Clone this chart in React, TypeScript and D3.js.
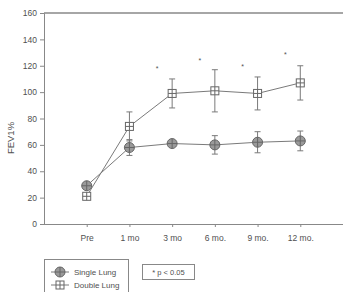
import * as d3 from "d3";
import React, { useEffect, useRef } from "react";

const categories = ["Pre", "1 mo", "3 mo", "6 mo.", "9 mo.", "12 mo."];
const singleMean = [29, 58, 61, 60, 62, 63];
const singleErr = [0, 6, 0, 7, 8, 7.5];
const doubleMean = [21, 74, 99, 101, 99, 107];
const doubleErr = [0, 11, 11, 16, 12.5, 13];
const starCats = ["3 mo", "6 mo.", "9 mo.", "12 mo."];
const starValues = [119, 125, 120, 129];
const yTicks = [0, 20, 40, 60, 80, 100, 120, 140, 160];

const W = 343;
const H = 292;
const gray = "#7a7a7a";
const textColor = "#505050";
const font = "Arial, Liberation Sans, sans-serif";

const App: React.FC = () => {
  const svgRef = useRef<SVGSVGElement | null>(null);

  useEffect(() => {
    const svg = d3.select(svgRef.current);
    svg.selectAll("*").remove();

    const x = d3.scalePoint<string>().domain(categories).range([44, 343]).padding(1);
    const y = d3.scaleLinear().domain([0, 160]).range([224, 13]);

    // top frame line
    svg
      .append("line")
      .attr("x1", 44)
      .attr("x2", W)
      .attr("y1", y(160))
      .attr("y2", y(160))
      .attr("stroke", "#888")
      .attr("stroke-width", 1.5);

    const yAxis = svg
      .append("g")
      .attr("transform", "translate(44,0)")
      .call(d3.axisLeft(y).tickValues(yTicks).tickSize(4).tickPadding(3));
    yAxis.select(".domain").attr("stroke", "#888");
    yAxis.selectAll("line").attr("stroke", "#888");
    yAxis
      .selectAll("text")
      .attr("fill", textColor)
      .style("font-family", font)
      .style("font-size", "8.5px");

    const xAxis = svg
      .append("g")
      .attr("transform", `translate(0,${y(0)})`)
      .call(d3.axisBottom(x).tickSize(3).tickPadding(8).tickSizeOuter(0));
    xAxis.select(".domain").attr("stroke", "#888").attr("d", "M40.5,0.5H343");
    xAxis.selectAll("line").attr("stroke", "#888");
    xAxis
      .selectAll("text")
      .attr("fill", textColor)
      .style("font-family", font)
      .style("font-size", "8.5px");

    svg
      .append("text")
      .attr("transform", `translate(14,138) rotate(-90)`)
      .attr("text-anchor", "middle")
      .attr("fill", textColor)
      .style("font-family", font)
      .style("font-size", "9.5px")
      .text("FEV1%");

    const line = d3
      .line<number>()
      .x((_, i) => x(categories[i]) as number)
      .y((d) => y(d));

    const drawErr = (means: number[], errs: number[]) => {
      const g = svg.append("g").attr("stroke", gray).attr("stroke-width", 1);
      means.forEach((m, i) => {
        if (!errs[i]) return;
        const cx = x(categories[i]) as number;
        g.append("line").attr("x1", cx).attr("x2", cx).attr("y1", y(m + errs[i])).attr("y2", y(m - errs[i]));
        [m + errs[i], m - errs[i]].forEach((v) => {
          g.append("line").attr("x1", cx - 3).attr("x2", cx + 3).attr("y1", y(v)).attr("y2", y(v));
        });
      });
    };

    drawErr(doubleMean, doubleErr);
    drawErr(singleMean, singleErr);

    svg.append("path").datum(doubleMean).attr("d", line).attr("fill", "none").attr("stroke", gray);
    svg.append("path").datum(singleMean).attr("d", line).attr("fill", "none").attr("stroke", gray);

    const drawSquare = (g: d3.Selection<any, any, any, any>, cx: number, cy: number) => {
      g.append("rect")
        .attr("x", cx - 4)
        .attr("y", cy - 4)
        .attr("width", 8)
        .attr("height", 8)
        .attr("fill", "#fff")
        .attr("stroke", "#666");
      g.append("line").attr("x1", cx - 4).attr("x2", cx + 4).attr("y1", cy).attr("y2", cy).attr("stroke", "#666");
      g.append("line").attr("x1", cx).attr("x2", cx).attr("y1", cy - 4).attr("y2", cy + 4).attr("stroke", "#666");
    };
    const drawCircle = (g: d3.Selection<any, any, any, any>, cx: number, cy: number) => {
      g.append("circle").attr("cx", cx).attr("cy", cy).attr("r", 5).attr("fill", "#9a9a9a").attr("stroke", "#666");
      g.append("line").attr("x1", cx - 5).attr("x2", cx + 5).attr("y1", cy).attr("y2", cy).attr("stroke", "#666");
      g.append("line").attr("x1", cx).attr("x2", cx).attr("y1", cy - 5).attr("y2", cy + 5).attr("stroke", "#666");
    };

    const markers = svg.append("g");
    doubleMean.forEach((m, i) => drawSquare(markers, x(categories[i]) as number, y(m)));
    singleMean.forEach((m, i) => drawCircle(markers, x(categories[i]) as number, y(m)));

    // significance stars
    starCats.forEach((c, i) => {
      svg
        .append("text")
        .attr("x", (x(c) as number) - 15)
        .attr("y", y(starValues[i]) + 3.5)
        .attr("text-anchor", "middle")
        .attr("fill", textColor)
        .style("font-family", font)
        .style("font-size", "7px")
        .text("*");
    });

    // legend
    const leg = svg.append("g");
    leg.append("rect").attr("x", 44.5).attr("y", 259.5).attr("width", 84).attr("height", 40).attr("fill", "#fff").attr("stroke", "#888");
    leg.append("line").attr("x1", 51).attr("x2", 69).attr("y1", 272).attr("y2", 272).attr("stroke", gray);
    drawCircle(leg, 60, 272);
    leg.append("line").attr("x1", 51).attr("x2", 69).attr("y1", 285).attr("y2", 285).attr("stroke", gray);
    drawSquare(leg, 60, 285);
    [
      ["Single Lung", 272],
      ["Double Lung", 285],
    ].forEach(([t, ly]) => {
      leg
        .append("text")
        .attr("x", 74)
        .attr("y", (ly as number) + 3)
        .attr("fill", textColor)
        .style("font-family", font)
        .style("font-size", "8px")
        .text(t as string);
    });
    leg.append("rect").attr("x", 142.5).attr("y", 264.5).attr("width", 52).attr("height", 15).attr("fill", "#fff").attr("stroke", "#888");
    leg
      .append("text")
      .attr("x", 168.5)
      .attr("y", 275)
      .attr("text-anchor", "middle")
      .attr("fill", textColor)
      .style("font-family", font)
      .style("font-size", "7.5px")
      .text("* p < 0.05");
  }, []);

  return (
    <svg
      ref={svgRef}
      width={W}
      height={H}
      style={{ position: "absolute", left: 0, top: 0, background: "#fff" }}
    ></svg>
  );
};

export default App;
